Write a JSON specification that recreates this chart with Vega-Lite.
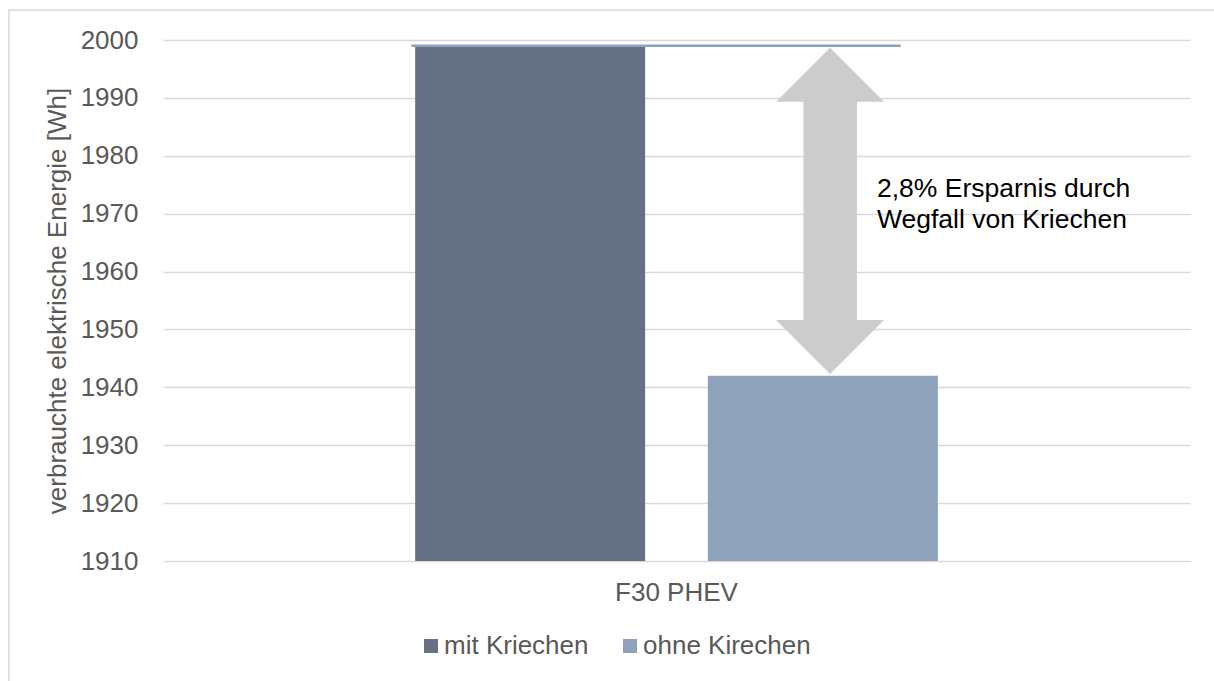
{
  "$schema": "https://vega.github.io/schema/vega-lite/v6.json",
  "width": 1027,
  "height": 521,
  "autosize": {"type": "none"},
  "padding": {"left": 163, "top": 40, "right": 24, "bottom": 120},
  "background": "white",
  "config": {
    "font": "Liberation Sans",
    "view": {"stroke": null},
    "axis": {
      "labelFont": "Liberation Sans",
      "titleFont": "Liberation Sans",
      "labelColor": "#595959",
      "titleColor": "#595959",
      "labelFontSize": 26,
      "titleFontSize": 26,
      "titleFontWeight": "normal",
      "ticks": false,
      "domain": false,
      "gridColor": "#d9d9d9",
      "gridWidth": 1.5
    },
    "legend": {
      "labelFont": "Liberation Sans",
      "labelFontSize": 26,
      "labelColor": "#595959",
      "labelLimit": 0
    }
  },
  "resolve": {"scale": {"x": "independent"}},
  "layer": [
    {
      "data": {
        "values": [
          {"modell": "F30 PHEV", "variante": "mit Kriechen", "energie": 1998.8},
          {"modell": "F30 PHEV", "variante": "ohne Kirechen", "energie": 1942.0}
        ]
      },
      "mark": {"type": "bar", "clip": true},
      "encoding": {
        "x": {
          "field": "modell",
          "type": "nominal",
          "scale": {"paddingInner": 0, "paddingOuter": 0.4824},
          "axis": {"title": null, "labelAngle": 0, "labelPadding": 18, "grid": false}
        },
        "xOffset": {
          "field": "variante",
          "type": "nominal",
          "scale": {"paddingInner": 0.2142, "paddingOuter": 0}
        },
        "y": {
          "field": "energie",
          "type": "quantitative",
          "scale": {"domain": [1910, 2000], "zero": false, "nice": false},
          "axis": {
            "title": "verbrauchte elektrische Energie [Wh]",
            "values": [1910, 1920, 1930, 1940, 1950, 1960, 1970, 1980, 1990, 2000],
            "format": "d",
            "labelPadding": 25,
            "titlePadding": 10,
            "grid": true
          }
        },
        "color": {
          "field": "variante",
          "type": "nominal",
          "scale": {"domain": ["mit Kriechen", "ohne Kirechen"], "range": ["#677185", "#8FA2BC"]},
          "legend": {
            "title": null,
            "orient": "none",
            "legendX": 255,
            "legendY": 593,
            "direction": "horizontal",
            "symbolType": "square",
            "symbolSize": 196,
            "symbolStrokeWidth": 0,
            "labelOffset": 0,
            "columnPadding": 28,
            "labelLimit": 0
          }
        }
      }
    },
    {
      "data": {"values": [{}]},
      "mark": {"type": "rect", "fill": null, "filled": false, "stroke": "#d9d9d9", "strokeWidth": 1.5, "clip": false},
      "encoding": {
        "x": {"datum": -0.15, "type": "quantitative", "scale": {"domain": [0, 1], "nice": false, "zero": false}, "axis": null},
        "x2": {"datum": 1.2},
        "y": {"datum": 2005.2, "type": "quantitative"},
        "y2": {"datum": 1880}
      }
    },
    {
      "data": {"values": [{}]},
      "mark": {"type": "rule", "color": "#8EA0BB", "strokeWidth": 2.5},
      "encoding": {
        "x": {"datum": 0.2419, "type": "quantitative", "scale": {"domain": [0, 1], "nice": false, "zero": false}, "axis": null},
        "x2": {"datum": 0.7183},
        "y": {"datum": 1999.0, "type": "quantitative"}
      }
    },
    {
      "data": {"values": [{}]},
      "mark": {"type": "rect", "color": "#cccccc"},
      "encoding": {
        "x": {"datum": 0.6236, "type": "quantitative", "scale": {"domain": [0, 1], "nice": false, "zero": false}, "axis": null},
        "x2": {"datum": 0.6757},
        "y": {"datum": 1989.5, "type": "quantitative"},
        "y2": {"datum": 1951.5}
      }
    },
    {
      "data": {"values": [{}]},
      "mark": {"type": "point", "shape": "M-1,0L0,-1L1,0Z", "size": 11664, "filled": true, "color": "#cccccc", "opacity": 1, "strokeWidth": 0},
      "encoding": {
        "x": {"datum": 0.6495, "type": "quantitative", "scale": {"domain": [0, 1], "nice": false, "zero": false}, "axis": null},
        "y": {"datum": 1989.34, "type": "quantitative"}
      }
    },
    {
      "data": {"values": [{}]},
      "mark": {"type": "point", "shape": "M-1,0L0,1L1,0Z", "size": 11664, "filled": true, "color": "#cccccc", "opacity": 1, "strokeWidth": 0},
      "encoding": {
        "x": {"datum": 0.6495, "type": "quantitative", "scale": {"domain": [0, 1], "nice": false, "zero": false}, "axis": null},
        "y": {"datum": 1951.63, "type": "quantitative"}
      }
    },
    {
      "data": {"values": [{"zeilen": ["2,8% Ersparnis durch", "Wegfall von Kriechen"]}]},
      "mark": {"type": "text", "align": "left", "baseline": "alphabetic", "fontSize": 26.5, "font": "Liberation Sans", "color": "#000000", "lineHeight": 31},
      "encoding": {
        "x": {"datum": 0.6952, "type": "quantitative", "scale": {"domain": [0, 1], "nice": false, "zero": false}, "axis": null},
        "y": {"datum": 1972.88, "type": "quantitative"},
        "text": {"field": "zeilen"}
      }
    }
  ]
}
